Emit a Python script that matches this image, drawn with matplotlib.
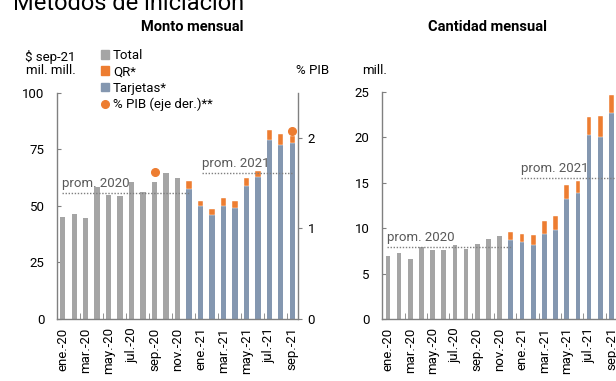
import numpy as np
import matplotlib
matplotlib.use('Agg')
import matplotlib.pyplot as plt
from matplotlib.lines import Line2D
from matplotlib.patches import Patch

plt.rcParams['font.family'] = ['Roboto', 'DejaVu Sans']

# Data (ene-20 .. sep-21, 21 months)
tick_labels = ['ene.-20', 'mar.-20', 'may.-20', 'jul.-20', 'sep.-20', 'nov.-20',
               'ene.-21', 'mar.-21', 'may.-21', 'jul.-21', 'sep.-21']

# Monto mensual ($ sep-21 mil. mill.)
monto_total = [45.1, 46.3, 44.4, 58.3, 54.7, 54.2, 60.4, 56.0, 60.4, 64.4, 62.3]  # ene-20..nov-20
monto_tarjetas = [57.6, 49.7, 45.7, 50.1, 48.9, 58.9, 62.7, 79.2, 77.0, 77.5]     # dic-20..sep-21
monto_qr = [3.2, 2.2, 2.7, 3.3, 3.3, 3.3, 2.7, 4.1, 4.6, 3.3]
pib_idx = [8, 20]
pib_vals = [1.62, 2.08]

# Cantidad mensual (mill.)
cant_total = [6.93, 7.22, 6.6, 7.96, 7.55, 7.55, 8.1, 7.7, 8.25, 8.77, 9.1]
cant_tarjetas = [8.73, 8.5, 8.18, 9.31, 9.83, 13.17, 13.9, 20.2, 20.0, 22.7]
cant_qr = [0.8, 0.81, 1.02, 1.47, 1.47, 1.53, 1.28, 2.0, 2.3, 1.9]

GRAY = '#a5a5a5'
BLUE = '#8497b0'
ORANGE = '#ed7d31'
SPINE = '#808080'
TXT = '#595959'

fig = plt.figure(figsize=(6.16, 3.81), dpi=100)
W, H = 616, 381


def px_axes(x0, x1, y0, y1):
    return fig.add_axes([x0 / W, 1 - y1 / H, (x1 - x0) / W, (y1 - y0) / H])


def style_axes(ax, ymax, yticks):
    n = len(monto_total) + len(monto_tarjetas)
    ax.set_xlim(-0.5, n - 0.5)
    ax.set_ylim(0, ymax)
    ax.set_yticks(yticks)
    ax.spines['top'].set_visible(False)
    ax.spines['right'].set_visible(False)
    for s in ['left', 'bottom']:
        ax.spines[s].set_color(SPINE)
        ax.spines[s].set_linewidth(1)
    ax.tick_params(axis='y', direction='in', length=3, color=SPINE, pad=9, labelsize=9.5)
    ax.set_xticks(np.arange(0, n, 2))
    ax.set_xticklabels(tick_labels, rotation=90, fontsize=9.5)
    ax.tick_params(axis='x', which='major', length=0, pad=6)
    ax.set_xticks(np.arange(1.5, n - 1, 2), minor=True)
    ax.tick_params(axis='x', which='minor', direction='in', length=4, color=SPINE)


def draw_panel(ax, total, tarjetas, qr, width):
    x_tot = np.arange(len(total))
    x_new = np.arange(len(total), len(total) + len(tarjetas))
    ax.bar(x_tot, total, width=width, color=GRAY, zorder=2)
    ax.bar(x_new, tarjetas, width=width, color=BLUE, zorder=2)
    ax.bar(x_new, qr, bottom=tarjetas, width=width, color=ORANGE,
           edgecolor='white', linewidth=0.3, zorder=2)
    # annual averages
    t2020 = list(total) + [tarjetas[0] + qr[0]]
    t2021 = [t + q for t, q in zip(tarjetas[1:], qr[1:])]
    return np.mean(t2020), np.mean(t2021)


def prom_line(ax, x0, x1, y, label):
    ax.plot([x0, x1], [y, y], linestyle=(0, (1, 1.2)), color='#7f7f7f', lw=1, zorder=3)
    ax.annotate(label, (x0, y), xytext=(0, 2), textcoords='offset points',
                ha='left', va='bottom', fontsize=9.5, color=TXT, zorder=4)


# Left panel: Monto mensual
ax1 = px_axes(57, 298, 92.5, 319)
p20, p21 = draw_panel(ax1, monto_total, monto_tarjetas, monto_qr, 0.47)
style_axes(ax1, 100, [0, 25, 50, 75, 100])
prom_line(ax1, -0.1, 11.0, p20, 'prom. 2020')
prom_line(ax1, 12.1, 20.0, p21, 'prom. 2021')

ax1r = ax1.twinx()
ax1r.set_ylim(0, 2.5)
ax1r.set_yticks([0, 1, 2])
ax1r.plot(pib_idx, pib_vals, 'o', color=ORANGE, markersize=5.5, zorder=5)
for s in ['top', 'left', 'bottom']:
    ax1r.spines[s].set_visible(False)
ax1r.spines['right'].set_color(SPINE)
ax1r.spines['right'].set_linewidth(1)
ax1r.tick_params(axis='y', direction='out', length=3, color=SPINE, pad=4, labelsize=9.5)

# Right panel: Cantidad mensual
ax2 = px_axes(382.3, 617, 91.7, 319)
q20, q21 = draw_panel(ax2, cant_total, cant_tarjetas, cant_qr, 0.42)
style_axes(ax2, 25, [0, 5, 10, 15, 20, 25])
prom_line(ax2, -0.1, 11.1, q20, 'prom. 2020')
prom_line(ax2, 11.9, 20.5, q21, 'prom. 2021')

# Texts
fig.text(12.7 / W, 1 - 9.5 / H, 'Métodos de iniciación', fontsize=17, va='baseline', ha='left')
fig.text(192.5 / W, 1 - 26.7 / H, 'Monto mensual', fontsize=10.5, fontweight='bold',
         ha='center', va='center')
fig.text(488 / W, 1 - 26.7 / H, 'Cantidad mensual', fontsize=10.5, fontweight='bold',
         ha='center', va='center')
fig.text(50.5 / W, 1 - 57 / H, '$ sep-21', fontsize=9.5, ha='center', va='center')
fig.text(50.5 / W, 1 - 71 / H, 'mil. mill.', fontsize=9.5, ha='center', va='center')
fig.text(312.5 / W, 1 - 70.7 / H, '% PIB', fontsize=9.5, ha='center', va='center')
fig.text(374.5 / W, 1 - 70.7 / H, 'mill.', fontsize=9.5, ha='center', va='center')

handles = [Patch(color=GRAY), Patch(color=ORANGE), Patch(color=BLUE),
           Line2D([], [], marker='o', color=ORANGE, linestyle='none', markersize=5.5)]
labels = ['Total', 'QR*', 'Tarjetas*', '% PIB (eje der.)**']
fig.legend(handles, labels, loc='upper left', bbox_to_anchor=(101 / W, 1 - 49 / H),
           frameon=False, fontsize=9.5, handlelength=0.6, handleheight=0.6,
           handletextpad=0.3, labelspacing=0.25, borderpad=0, borderaxespad=0)

fig.savefig('out.png', dpi=100)
